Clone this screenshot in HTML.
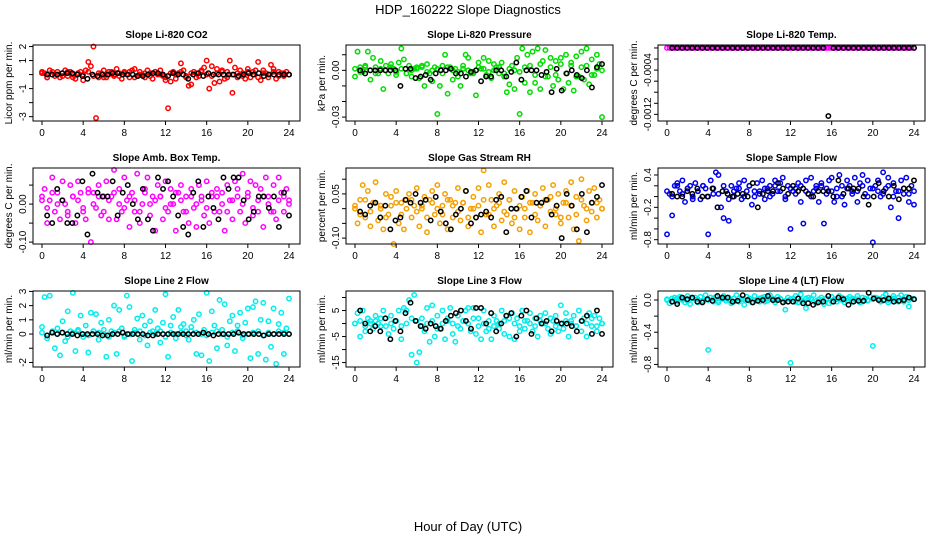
<!DOCTYPE html>
<html><head><meta charset="utf-8"><style>
html,body{margin:0;padding:0;background:#fff;}
svg{display:block;font-family:"Liberation Sans",sans-serif;}
</style></head><body>
<svg id="chart" width="936" height="540" viewBox="0 0 936 540" xmlns="http://www.w3.org/2000/svg">
<text x="468" y="14" font-size="13" text-anchor="middle">HDP_160222  Slope Diagnostics</text>
<text x="468" y="531" font-size="13" text-anchor="middle">Hour of Day (UTC)</text>
</svg>
<script>
const xTicks = [0,4,8,12,16,20,24];
const titles = ["Slope Li-820 CO2","Slope Li-820 Pressure","Slope Li-820 Temp.","Slope Amb. Box Temp.","Slope Gas Stream RH","Slope Sample Flow","Slope Line 2 Flow","Slope Line 3 Flow","Slope Line 4 (LT) Flow"];
const yLabels = ["Licor ppm per min.","kPa per min.","degrees C per min.","degrees C per min.","percent per min.","ml/min per min.","ml/min per min.","ml/min per min.","ml/min per min."];
const colors = ["#ff0000","#00dd00","#ff00ff","#ff00ff","#f5a000","#0000ee","#00eeee","#00eeee","#00eeee"];
const yTicks = [[2,1,0,-1,-2,-3],[0.01,0,-0.01,-0.02,-0.03],[0,-0.0002,-0.0004,-0.0006,-0.0008,-0.001,-0.0012],[0.05,0,-0.05,-0.1],[0.1,0.05,0,-0.05,-0.1],[0.4,0.2,0,-0.2,-0.4,-0.6,-0.8],[3,2,1,0,-1,-2],[10,5,0,-5,-10,-15],[0,-0.2,-0.4,-0.6,-0.8]];
const yTickLabels = [["2","1","","-1","","-3"],["","0.00","","","-0.03"],["","","-0.0004","","","","-0.0012"],["","0.00","","-0.10"],["","0.05","","","-0.10"],["0.4","","","-0.2","","","-0.8"],["3","2","1","0","","-2"],["","5","","-5","","-15"],["0.0","","-0.4","","-0.8"]];
const yMin = [-3.31,-0.0325,-0.00132,-0.105,-0.12,-0.88,-2.32,-16.7,-0.832];
const yMax = [2.11,0.01625,0.0000536,0.095,0.138,0.53,3.03,12.5,0.112];

const co2 = [0.2,0.1,-0.2,0.3,0.0,-0.1,0.2,-0.2,0.1,0.3,-0.1,0.2,0.0,-0.3,0.1,0.2,-0.4,0.3,0.9,0.6,2.0,-3.1,-0.2,0.1,0.3,-0.2,0.0,0.2,-0.1,0.4,0.1,-0.3,0.2,0.0,-0.2,0.3,0.4,-0.1,0.2,0.0,-0.2,0.3,0.1,-0.3,0.2,0.0,0.3,-0.1,-0.4,-2.4,-0.5,0.2,-0.3,0.1,0.8,0.3,-0.2,-0.8,-0.7,0.2,0.1,-0.1,0.3,0.5,1.0,-1.0,0.6,-0.6,0.4,-0.5,0.3,-0.3,0.2,1.0,-1.3,0.5,-0.2,0.3,0.1,-0.3,0.4,-0.2,0.2,0.3,0.9,-0.4,0.3,0.1,-0.2,0.7,0.4,-0.3,0.2,0.1,-0.1,0.2,0.0];
const co2Band = [0.1,-0.2,0.2,0.0,-0.1,0.2,-0.2,0.1,0.0,0.2,-0.1,0.1,-0.2,0.2,0.0,-0.1,0.1,0.2,-0.2,0.0,0.1,-0.1,0.2,0.0,-0.2,0.1,0.0,0.2,-0.1,0.1,-0.2,0.2,0.0,-0.1,0.1,0.2,-0.2,0.0,0.1,-0.1,0.2,0.0,-0.2,0.1,0.0,0.2,-0.1,0.1,0.0];
const co2Ref = [0,0,0,0.1,0.1,0.1,0,-0.1,-0.3,0,-0.1,0,0,0.1,0.1,0,0,0,-0.1,-0.1,0,0.1,0.1,0,-0.1,0.1,0,0,-0.3,0,0.1,-0.1,0.1,0,0,0,0,0,-0.1,0,0.1,0,0.1,-0.1,0,0,0,0,0];
const pres = [-0.004,0.012,0.002,-0.001,0.003,0.012,-0.006,0.008,0.002,-0.002,0.006,-0.012,0.003,-0.002,0.004,0.001,-0.003,0.005,0.014,0.007,-0.002,0.003,-0.004,0.001,0.002,-0.005,0.003,-0.010,0.004,-0.002,-0.007,0.002,-0.028,-0.010,0.003,0.010,-0.015,0.002,-0.006,0.001,-0.004,-0.010,0.003,0.010,0.008,-0.002,-0.001,-0.016,0.005,0.001,0.008,-0.003,0.006,-0.005,0.004,0.002,-0.002,0.005,-0.004,-0.014,-0.009,0.003,-0.012,0.008,-0.028,0.014,-0.008,0.010,-0.014,0.012,-0.008,0.014,-0.012,0.006,0.013,-0.004,0.008,-0.010,0.006,-0.006,0.008,-0.012,0.010,-0.008,0.005,-0.013,0.009,-0.004,0.012,-0.006,0.014,-0.009,0.007,-0.003,0.010,0.004,-0.030];
const presBand = [0.001,-0.001,0.002,0.000,-0.002,0.001,0.000,0.002,-0.001,0.001,-0.002,0.000,0.001,0.002,-0.001,0.000,0.001,-0.002,0.002,0.000,-0.001,0.001,0.000,-0.002,0.002,0.001,-0.001,0.000,0.002,-0.002,0.001,0.000,-0.001,0.002,0.003,-0.003,0.004,-0.004,0.002,-0.003,0.004,-0.002,0.003,-0.004,0.002,0.003,-0.003,0.001,0.000];
const presRef = [0,-0.002,0,0,0,0,0,0,-0.010,0.001,0.001,-0.005,-0.004,-0.003,-0.006,-0.002,0,0,0.001,-0.002,-0.002,-0.004,-0.001,0,-0.007,-0.004,-0.004,0,0,-0.004,-0.001,0.005,-0.006,0,0,0,-0.003,-0.001,-0.014,0.001,-0.013,-0.002,0,-0.003,-0.005,0,-0.011,0.002,0.004];
const temp = [0,0,0,0,0,0,0,0,0,0,0,0,0,0,0,0,0,0,0,0,0,0,0,0,0,0,0,0,0,0,0,0,0,0,0,0,0,0,0,0,0,0,0,0,0,0,0,0,0,0,0,0,0,0,0,0,0,0,0,0,0,0,0,0,0,0,0,0,0,0,0,0,0,0,0,0,0,0,0,0,0,0,0,0,0,0,0,0,0,0,0,0,0,0,0,0,0];
const tempRef = [0,0,0,0,0,0,0,0,0,0,0,0,0,0,0,0,0,0,0,0,0,0,0,0,0,0,0,0,0,0,0,-0.00123,0,0,0,0,0,0,0,0,0,0,0,0,0,0,0,0,0];
const amb = [0.01,0.04,-0.05,0.01,0.07,-0.02,0.03,-0.04,0.06,0.00,-0.03,0.05,0.02,-0.05,0.06,0.03,-0.02,-0.04,0.04,-0.10,0.03,-0.01,0.05,-0.03,0.02,0.06,-0.04,0.02,0.09,-0.04,0.04,-0.02,0.07,0.01,-0.06,0.03,-0.02,0.08,-0.05,0.00,0.04,0.07,-0.03,0.02,-0.07,0.05,0.02,-0.04,0.06,-0.02,0.04,0.00,-0.07,0.03,0.05,-0.02,0.02,-0.05,0.04,-0.01,-0.06,0.05,0.02,-0.03,0.06,-0.05,0.02,-0.02,0.04,-0.02,0.03,-0.07,0.05,0.01,-0.04,0.06,0.04,-0.02,0.08,-0.05,0.02,0.06,-0.03,0.05,-0.02,0.04,-0.06,0.07,0.02,-0.02,0.05,-0.04,0.07,0.03,-0.02,0.04,0.01];
const ambBand = [0.02,-0.01,0.03,0.00,0.01,-0.02,0.02,0.01,-0.01,0.03,0.00,0.02,-0.02,0.01,0.03,0.00,-0.01,0.02,0.01,-0.02,0.03,0.00,0.01,0.02,-0.01,0.00,0.03,0.01,-0.02,0.02,0.00,0.01,-0.01,0.03,0.02,0.00,-0.02,0.01,0.02,0.00,0.03,-0.01,0.01,0.02,0.00,-0.02,0.01,0.02,0.00];
const ambRef = [-0.03,-0.05,0.04,0.01,-0.05,-0.05,-0.03,0.06,-0.08,0.08,0.03,0.02,0.02,0.06,-0.03,0.03,0.05,0.00,-0.04,0.04,-0.04,-0.07,0.07,0.04,0.06,0.02,-0.03,-0.06,-0.08,0.03,0.06,-0.06,0.02,-0.01,-0.04,0.07,0.04,0.07,0.07,0.01,-0.04,-0.02,0.02,0.02,-0.01,0.02,-0.06,0.03,-0.03];
const rh = [0.00,-0.05,0.03,0.08,-0.03,0.06,-0.06,0.02,0.09,-0.04,0.01,-0.07,0.05,-0.02,0.04,-0.12,0.06,-0.05,0.02,-0.07,0.03,0.05,-0.03,0.01,0.07,-0.06,0.00,0.04,-0.08,0.03,0.06,-0.02,0.08,-0.05,0.01,0.05,-0.07,0.03,-0.03,0.02,0.07,-0.04,0.02,0.06,-0.06,0.00,0.04,-0.03,0.07,-0.08,0.13,-0.02,0.08,0.03,-0.06,0.01,0.05,-0.04,0.09,-0.02,0.03,-0.05,0.06,0.00,-0.07,0.04,-0.03,0.06,-0.08,0.02,0.05,-0.04,0.01,0.07,-0.06,0.03,0.04,0.08,-0.02,0.05,-0.05,0.02,0.06,-0.03,0.09,-0.07,0.04,-0.11,0.10,0.01,-0.04,0.06,0.02,0.07,-0.03,0.03,0.00];
const rhBand = [0.01,-0.02,0.03,-0.01,0.02,0.00,-0.03,0.01,0.02,-0.02,0.00,0.03,-0.01,0.01,-0.03,0.02,0.00,-0.02,0.03,0.01,-0.01,0.02,-0.03,0.00,0.01,0.03,-0.02,0.00,0.02,-0.01,0.03,-0.03,0.01,0.00,0.02,-0.02,0.01,0.03,-0.01,0.00,-0.03,0.02,0.01,-0.02,0.03,0.00,-0.01,0.02,0.00];
const rhRef = [-0.01,-0.02,0.01,0.02,-0.03,0.01,-0.07,-0.04,-0.03,0.03,0.02,0.05,0.02,0.03,-0.04,0.04,-0.01,-0.05,-0.07,-0.02,0.00,0.06,-0.05,-0.03,-0.02,-0.01,-0.03,0.03,0.04,-0.08,0.00,0.00,0.04,0.06,-0.03,0.02,0.02,0.03,-0.02,0.01,-0.10,0.05,0.01,-0.07,0.05,-0.08,0.02,0.04,0.08];
const sflow = [-0.7,0.05,-0.35,0.2,0.25,0.1,0.3,-0.1,0.15,0.2,0.0,0.25,0.1,-0.05,0.2,0.15,-0.7,0.3,0.05,0.45,0.4,-0.2,-0.4,0.1,-0.45,0.2,0.0,0.15,0.25,-0.05,0.3,0.1,0.2,-0.15,0.0,0.25,0.1,0.3,-0.05,0.15,0.2,0.05,0.3,0.1,0.25,0.35,0.0,0.2,-0.6,0.1,0.15,0.25,-0.1,-0.5,0.3,0.05,0.35,0.1,0.2,-0.1,0.25,-0.5,0.15,0.3,0.35,-0.1,0.15,0.4,0.0,-0.15,0.3,0.2,0.1,0.35,-0.1,0.25,0.4,0.05,0.3,0.15,-0.85,0.2,0.3,0.0,0.45,0.15,0.35,-0.2,0.25,0.1,-0.4,0.3,0.05,0.35,-0.1,0.2,-0.15];
const sflowBand = [0.1,0.0,0.2,0.05,0.15,-0.05,0.1,0.2,0.0,0.15,0.05,0.2,-0.05,0.1,0.15,0.0,0.2,0.1,0.05,0.15,0.0,0.2,0.1,-0.05,0.15,0.05,0.2,0.1,0.0,0.15,0.2,0.05,0.1,0.0,0.2,0.15,0.05,0.1,0.2,0.0,0.15,0.1,0.05,0.2,0.0,0.1,0.15,0.05,0.1];
const sflowRef = [0.05,0.0,0.0,0.1,0.05,0.15,0.0,0.0,0.15,-0.2,0.1,0.05,0.0,0.05,0.05,0.0,0.25,-0.2,0.05,0.1,0.1,0.25,0.15,0.05,0.2,0.1,0.15,0.05,0.0,0.1,0.1,0.1,0.0,0.3,0.05,0.15,0.15,0.15,0.0,-0.15,0.0,0.25,0.1,0.0,0.2,-0.05,0.15,0.15,0.3];
const l2 = [0.5,2.6,-0.3,2.7,0.1,-1.0,0.4,-1.5,0.9,-0.5,1.6,0.2,2.9,-1.2,0.3,1.3,-0.2,0.6,-1.3,1.5,0.2,1.4,-0.4,0.8,0.3,-1.6,1.0,0.2,2.0,-1.4,1.7,0.4,-0.2,2.7,1.9,-1.9,0.3,1.1,-0.4,1.3,0.6,-0.8,0.9,0.2,1.7,0.4,-0.6,0.8,2.8,-1.6,0.6,1.2,-0.3,1.7,0.5,0.7,0.2,-0.4,0.5,1.0,-1.4,1.4,-1.5,0.3,2.9,-1.9,1.6,0.6,-1.0,2.4,0.3,2.1,-0.8,0.9,1.3,-1.2,0.6,1.5,-0.3,0.8,1.8,-1.7,1.9,2.3,-1.4,1.0,2.2,-1.8,0.9,-0.9,1.8,-2.1,0.7,1.5,-1.4,0.4,2.5];
const l2Band = [0.1,-0.1,0.2,0.0,0.1,-0.2,0.1,0.2,0.0,-0.1,0.2,0.1,0.0,-0.2,0.1,0.2,-0.1,0.0,0.1,0.2,-0.1,0.1,0.0,0.2,-0.2,0.1,0.0,0.1,-0.1,0.2,0.1,0.0,-0.1,0.1,0.2,0.0,-0.2,0.1,0.2,-0.1,0.0,0.1,0.2,-0.1,0.1,0.0,0.2,0.1,0.0];
const l2Ref = [-0.1,0.1,0.0,0.1,0.0,0.0,-0.1,0.0,0.0,0.0,0.0,-0.1,-0.1,0.0,0.0,0.1,0.0,0.0,0.0,0.0,-0.1,-0.1,0.0,0.0,0.0,0.0,0.0,0.0,0.0,0.0,0.0,0.1,0.0,-0.1,0.0,0.0,0.0,0.0,0.1,0.0,0.0,0.0,0.0,-0.1,0.0,0.0,0.0,0.0,0.0];
const l3 = [0,4,-5,5,-3,2,1,-2,3,0,-1,5,2,-4,3,-2,1,5,-6,6,5,9,-12,11,-15,-11,2,-3,6,-7,7,-5,3,-2,5,-6,2,6,-4,-7,3,-2,1,5,6,-3,6,-4,2,-6,5,-3,-2,-6,3,1,-2,5,-4,3,-5,4,-6,2,-3,5,-2,1,4,-3,2,-5,3,0,4,-2,-4,1,3,-3,7,-2,4,-5,1,3,-1,5,-3,2,-5,4,-1,3,-3,2,0];
const l3Band = [0,1,-1,0,1,2,-1,0,1,-1,0,2,1,-1,0,1,-2,0,1,0,-1,1,0,2,-1,0,1,-1,0,1,2,0,-1,1,0,-1,1,0,2,-1,0,1,0,-1,1,0,2,-1,0];
const l3Ref = [5,0,-3,-1,-3,2,-6,1,-3,4,8,1,-1,-2,0,-1,-2,1,3,4,5,1,-2,6,6,0,4,-3,0,3,4,-5,3,5,-4,2,0,1,-3,1,0,0,-1,-3,1,3,-4,5,-4];
const l4 = [0,-0.04,0.02,0.03,-0.02,0.04,0.01,-0.03,0.05,-0.05,0.02,0.03,-0.03,0.04,-0.01,0.06,-0.62,0.03,-0.02,0.04,-0.03,0.02,0.05,-0.01,0.03,-0.04,0.02,0.06,-0.02,0.01,-0.06,0.04,0.02,-0.03,0.05,0.01,-0.02,0.03,0.04,-0.01,0.06,0.02,-0.03,0.04,0.01,-0.02,-0.12,0.03,-0.78,0.02,0.05,-0.03,0.07,-0.01,-0.1,0.03,0.02,0.06,-0.04,0.01,0.03,-0.05,0.02,-0.04,0.04,0.01,-0.02,0.05,0.03,-0.03,0.02,0.04,-0.02,0.01,0.05,-0.03,0.03,0.02,-0.01,0.04,-0.57,0.03,0.01,-0.02,0.04,0.07,-0.03,0.02,0.05,-0.01,0.03,0.06,-0.02,0.04,-0.08,0.02,0.01];
const l4Band = [0.01,-0.02,0.02,0.00,-0.01,0.02,0.01,-0.02,0.00,0.02,-0.01,0.01,0.00,-0.02,0.02,0.01,-0.01,0.00,0.02,-0.02,0.01,0.00,0.02,-0.01,0.01,-0.02,0.00,0.02,0.01,-0.01,0.00,0.02,-0.02,0.01,0.00,-0.01,0.02,0.01,-0.02,0.00,0.01,0.02,-0.01,0.00,0.02,-0.02,0.01,0.00,0.01];
const l4Ref = [-0.02,-0.05,0.03,0.01,0.03,-0.02,-0.03,0.01,-0.01,0.05,0.03,0.03,-0.02,-0.01,0.06,0.00,-0.03,-0.01,0.00,0.05,0.00,0.00,-0.03,-0.02,-0.02,0.02,-0.04,-0.04,-0.06,-0.03,-0.02,0.05,-0.02,0.03,0.01,-0.06,-0.02,-0.01,-0.01,0.09,0.02,0.00,0.00,0.02,-0.02,-0.01,0.00,0.03,0.01];

const colorSeries = [[co2,co2Band],[pres,presBand],[temp],[amb,ambBand],[rh,rhBand],[sflow,sflowBand],[l2,l2Band],[l3,l3Band],[l4,l4Band]];
const refSeries = [co2Ref,presRef,tempRef,ambRef,rhRef,sflowRef,l2Ref,l3Ref,l4Ref];

const NS = "http://www.w3.org/2000/svg";
const svg = document.getElementById("chart");
function mk(tag, attrs, parent){
  const e = document.createElementNS(NS, tag);
  for (const k in attrs) e.setAttribute(k, attrs[k]);
  (parent||svg).appendChild(e);
  return e;
}
const lefts = [33,346,658], tops = [45,168,291], W = 267, H = 76;

for (let p = 0; p < 9; p++) {
  const L = lefts[p % 3], T = tops[Math.floor(p / 3)];
  const g = mk("g", {});
  
  
  const xs = h => L + 9 + h * (247 / 24);
  const ys = v => T + (yMax[p] - v) / (yMax[p] - yMin[p]) * H;

  const t = mk("text", {x: L + W / 2, y: T - 7, "font-size": 10, "font-weight": "bold", "text-anchor": "middle"}, g);
  t.textContent = titles[p];
  
  

  colorSeries[p].forEach(arr => {
    const n = arr.length;
    arr.forEach((v, i) => {
      const c = mk("circle", {cx: xs(i * 24 / (n - 1)), cy: ys(v), r: 2.2, fill: "none", stroke: colors[p], "stroke-width": 1.5}, g);
      
      
    });
  });
  const ref = refSeries[p];
  ref.forEach((v, i) => {
    const c = mk("circle", {cx: xs(0.5 + i * 23.5 / (ref.length - 1)), cy: ys(v), r: 2.2, fill: "none", stroke: "#000", "stroke-width": 1.5}, g);
    
    
  });

  const box = mk("rect", {x: L, y: T, width: W, height: H, fill: "none", stroke: "#000", "stroke-width": 1}, g);
  
  

  xTicks.forEach(h => {
    const x = xs(h);
    mk("line", {x1: x, x2: x, y1: T + H, y2: T + H + 4, stroke: "#000"}, g);
    const lt = mk("text", {x: x, y: T + H + 15, "font-size": 10, "text-anchor": "middle"}, g);
    lt.textContent = h;
    
    
  });
  yTicks[p].forEach((v, i) => {
    const y = ys(v);
    mk("line", {x1: L - 4, x2: L, y1: y, y2: y, stroke: "#000"}, g);
    if (yTickLabels[p][i]) {
      const lt = mk("text", {x: 0, y: 0, "font-size": 10, "text-anchor": "middle", transform: "translate(" + (L - 7) + "," + y + ") rotate(-90)"}, g);
      lt.textContent = yTickLabels[p][i];
      
      
    }
  });
  const yl = mk("text", {x: 0, y: 0, "font-size": 10, "text-anchor": "middle", transform: "translate(" + (L - 21) + "," + (T + H / 2) + ") rotate(-90)"}, g);
  yl.textContent = yLabels[p];
  
  
}
</script>
</body></html>
